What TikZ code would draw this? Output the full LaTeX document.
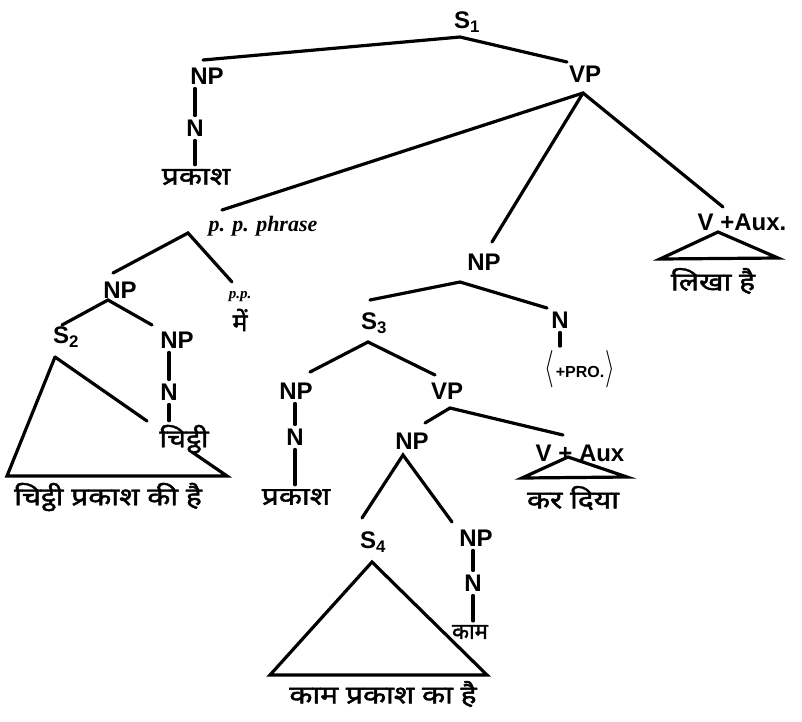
\documentclass[tikz,border=0pt]{standalone}
\usepackage{fontspec}
\setmainfont{Liberation Sans}
\newfontfamily\hin[Script=Devanagari,FakeBold=1.6]{Noto Sans}
\newfontfamily\ppfont{Liberation Serif}
\newcommand{\hw}[1]{\scalebox{1.2}[1]{#1}}
\newcommand{\tallbr}[1]{\raisebox{-0.25ex}{\scalebox{1.2}[1.8]{\fontsize{22}{24}\selectfont$#1$}}}
\begin{document}
\begin{tikzpicture}[x=1pt,y=-1pt,
  lbl/.style={inner sep=0pt, font=\bfseries\fontsize{24}{26}\selectfont},
  hi/.style={inner sep=0pt, font=\hin\fontsize{25}{27}\selectfont},
  pp/.style={inner sep=0pt, font=\ppfont\itshape\bfseries\fontsize{22}{24}\selectfont},
  br/.style={line width=3.2pt, line cap=round},
  vl/.style={line width=3.2pt, line cap=round, shorten <=4pt, shorten >=4pt}]
\useasboundingbox (0,0) rectangle (802,721);
% ---------- labels ----------
\node[lbl] (S1) at (467,22) {S\textsubscript{1}};
\node[lbl] (NPa) at (207,76) {NP};
\node[lbl] (Na) at (195,128) {N};
\node[hi] (wa) at (196,177) {\hw{प्रकाश}};
\node[lbl] (VPa) at (585,74) {VP};
\node[lbl] (VAa) at (742,222) {V +Aux.};
\node[hi] (wb) at (713,281) {\hw{लिखा है}};
\node[pp] (PP) at (263,226) {p. p. phrase};
\node[pp,font=\ppfont\itshape\bfseries\fontsize{15}{17}\selectfont] (PPb) at (240,297) {p.p.};
\node[hi] (wc) at (240,320) {में};
\node[lbl] (NPb) at (120,290) {NP};
\node[lbl] (S2) at (66,337) {S\textsubscript{2}};
\node[lbl] (NPc) at (177,340) {NP};
\node[lbl] (Nc) at (169,392) {N};
\node[hi] (wd) at (184,439) {\hw{चिट्ठी}};
\node[hi] (we) at (108,497) {\hw{चिट्ठी प्रकाश की है}};
\node[lbl] (NPd) at (484,262) {NP};
\node[lbl] (S3) at (374,323) {S\textsubscript{3}};
\node[lbl] (Nd) at (560,320) {N};
\node[inner sep=0pt] (PRO) at (580,369) {\tallbr{\langle}\,{\bfseries\fontsize{16}{18}\selectfont+PRO.}\,\tallbr{\rangle}};
\node[lbl] (NPe) at (296,391) {NP};
\node[lbl] (Ne) at (295,437) {N};
\node[hi] (wf) at (296,497) {\hw{प्रकाश}};
\node[lbl] (VPb) at (447,391) {VP};
\node[lbl] (NPf) at (412,441) {NP};
\node[lbl] (VAb) at (580,453) {V + Aux};
\node[hi] (wg) at (573,498) {\hw{कर दिया}};
\node[lbl] (S4) at (373,542) {S\textsubscript{4}};
\node[lbl] (NPg) at (476,538) {NP};
\node[lbl] (Ng) at (473,583) {N};
\node[hi,font=\hin\fontsize{22}{24}\selectfont] (wh) at (470,632) {काम};
\node[hi] (wi) at (383,694) {\hw{काम प्रकाश का है}};
% ---------- branch points ----------
\coordinate (s1top) at (460,37);
\coordinate (s1l) at (203,60);
\coordinate (s1r) at (567,62);
\coordinate (vptop) at (583,93);
\coordinate (vpl) at (222,210);
\coordinate (vpm) at (492,242);
\coordinate (vpr) at (723,207);
\coordinate (t1a) at (718,232);
\coordinate (t1l) at (660,259);
\coordinate (t1r) at (778,258);
\coordinate (pptop) at (188,233);
\coordinate (ppl) at (113,273);
\coordinate (ppr) at (232,282);
\coordinate (npbtop) at (108,300);
\coordinate (npbl) at (62,325);
\coordinate (npbr) at (152,325);
\coordinate (t2a) at (55,357);
\coordinate (t2l) at (7,476);
\coordinate (t2r) at (227,476);
\coordinate (t2b) at (147,421);
\coordinate (t2c) at (192,452);
\coordinate (npdtop) at (460,282);
\coordinate (npdl) at (370,300);
\coordinate (npdr) at (547,308);
\coordinate (s3top) at (368,342);
\coordinate (s3l) at (310,372);
\coordinate (s3r) at (435,375);
\coordinate (vpbtop) at (450,408);
\coordinate (vpbl) at (425,423);
\coordinate (vpbr) at (563,435);
\coordinate (t3a) at (568,457);
\coordinate (t3l) at (522,478);
\coordinate (t3r) at (627,477);
\coordinate (npftop) at (403,455);
\coordinate (npfl) at (362,518);
\coordinate (npfr) at (452,522);
\coordinate (t4a) at (372,562);
\coordinate (t4l) at (270,675);
\coordinate (t4r) at (487,675);
% ---------- branches ----------
\draw[br] (s1l) -- (s1top) -- (s1r);
\draw[br] (vpl) -- (vptop) -- (vpr);
\draw[br] (vptop) -- (vpm);
\draw[br] (t1l) -- (t1a) -- (t1r) -- cycle;
\draw[br] (ppl) -- (pptop) -- (ppr);
\draw[br] (npbl) -- (npbtop) -- (npbr);
\draw[br] (t2a) -- (t2b);
\draw[br] (t2c) -- (t2r) -- (t2l) -- (t2a);
\draw[br] (npdl) -- (npdtop) -- (npdr);
\draw[br] (s3l) -- (s3top) -- (s3r);
\draw[br] (vpbl) -- (vpbtop) -- (vpbr);
\draw[br] (t3l) -- (t3a) -- (t3r) -- cycle;
\draw[br] (npfl) -- (npftop) -- (npfr);
\draw[br] (t4l) -- (t4a) -- (t4r) -- cycle;
% ---------- unary lines ----------
\draw[vl] (Na.north |- NPa.south) -- (Na.north);
\draw[vl] (Na.south) -- (Na.south |- wa.north);
\draw[vl] (Nc.north |- NPc.south) -- (Nc.north);
\draw[vl] (Nc.south) -- (Nc.south |- wd.north);
\draw[vl] (Nd.south) -- (Nd.south |- PRO.north);
\draw[vl] (Ne.north |- NPe.south) -- (Ne.north);
\draw[vl] (Ne.south) -- (Ne.south |- wf.north);
\draw[vl] (Ng.north |- NPg.south) -- (Ng.north);
\draw[vl] (Ng.south) -- (Ng.south |- wh.north);
\end{tikzpicture}
\end{document}
